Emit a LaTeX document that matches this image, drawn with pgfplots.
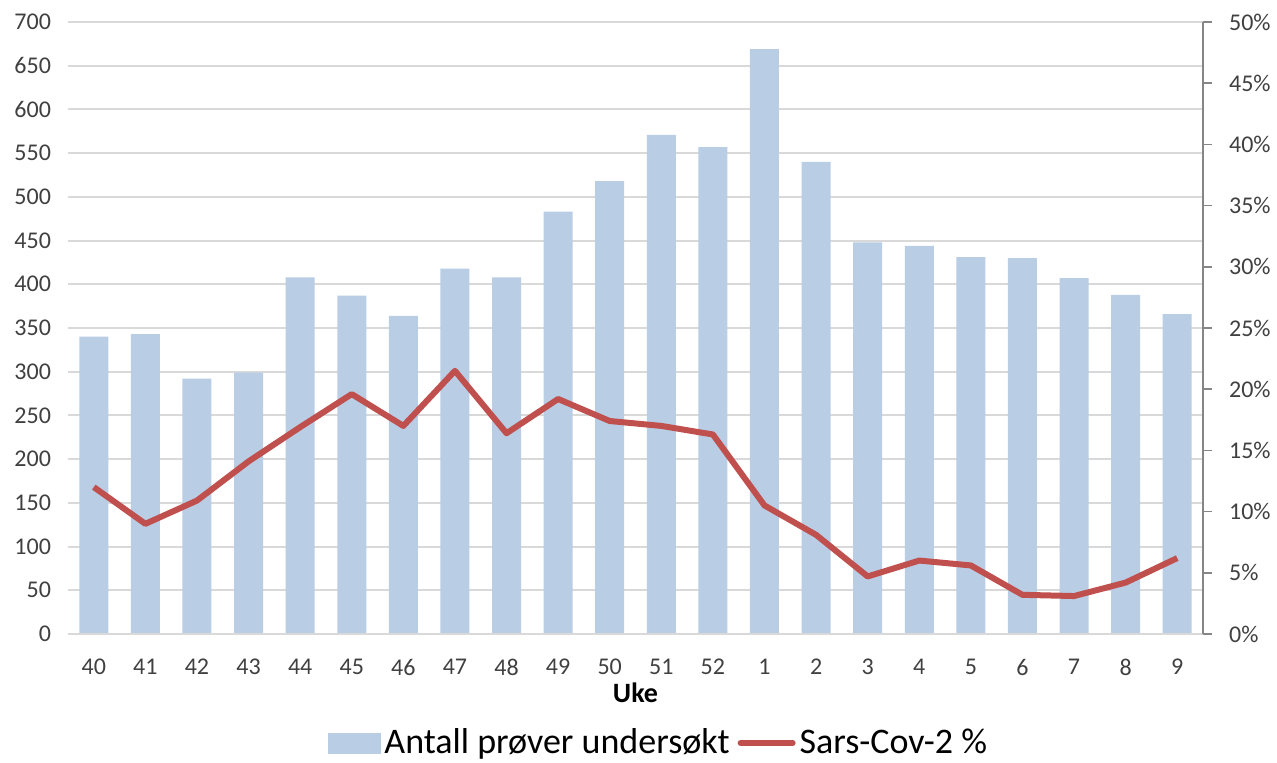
\documentclass[border=0pt]{standalone}
\usepackage{pgfplots}
\pgfplotsset{compat=1.18}
\usepackage{fontspec}
\setmainfont{Carlito}
\definecolor{barc}{HTML}{B9CDE5}
\definecolor{linec}{HTML}{C0504D}
\definecolor{gridc}{HTML}{D9D9D9}
\definecolor{txt}{HTML}{404040}
\definecolor{axc}{HTML}{868686}
\begin{document}
\begin{tikzpicture}
\path[use as bounding box] (-34pt,-64.5pt) rectangle (604.5pt,317pt);
\begin{axis}[
  scale only axis, width=567.5pt, height=306pt,
  xmin=-0.5, xmax=21.5, ymin=0, ymax=700,
  ytick={0,50,...,700},
  xtick={0,...,21},
  xticklabels={40,41,42,43,44,45,46,47,48,49,50,51,52,1,2,3,4,5,6,7,8,9},
  axis line style={draw=none},
  major tick length=0pt,
  ymajorgrids, grid style={gridc, line width=1pt},
  tick label style={font=\fontsize{12}{14}\selectfont, text=txt},
  /pgf/number format/assume math mode=true,
  yticklabel style={xshift=-5pt},
  xticklabel style={yshift=-9pt},
  xlabel={\textbf{Uke}}, xlabel style={font=\fontsize{14}{16}\selectfont, text=black, yshift=3.5pt},
  ybar, bar width=14.5pt,
  clip=false,
]
\addplot[fill=barc, draw=none] coordinates {
(0,340) (1,343) (2,292) (3,299) (4,408) (5,387) (6,364) (7,418) (8,408) (9,483) (10,518)
(11,571) (12,557) (13,669) (14,540) (15,448) (16,444) (17,431) (18,430) (19,407) (20,388) (21,366)};
\draw[gridc, line width=1pt] (axis cs:-0.5,0) -- (axis cs:21.5,0);
\end{axis}
\begin{axis}[
  scale only axis, width=567.5pt, height=306pt,
  xmin=-0.5, xmax=21.5, ymin=0, ymax=50,
  axis x line=none,
  axis y line*=right,
  ytick={0,5,...,50},
  yticklabel={\pgfmathprintnumber{\tick}\%},
  y axis line style={axc, line width=0.8pt, -},
  ytick style={axc, line width=0.8pt},
  tick align=outside, major tick length=4.5pt,
  tick label style={font=\fontsize{12}{14}\selectfont, text=txt},
  /pgf/number format/assume math mode=true,
  yticklabel style={xshift=5pt},
  legend style={at={(0.521,-0.178)}, anchor=center, draw=none, fill=none,
    font=\fontsize{18}{20}\selectfont, legend columns=2,
    /tikz/every even column/.append style={column sep=2pt}},
  legend image code/.code={},
]
\addlegendimage{legend image code/.code={\fill[barc] (-4pt,-5pt) rectangle (22pt,5pt);}}
\addlegendentry{Antall prøver undersøkt}
\addplot[linec, line width=3pt, line join=round, legend image code/.code={\draw[linec, line width=3pt, line cap=round] (-2pt,0pt) -- (24pt,0pt);}] coordinates {
(0,12.0) (1,9.0) (2,10.9) (3,14.1) (4,16.9) (5,19.6) (6,17.0) (7,21.5) (8,16.4) (9,19.2) (10,17.4)
(11,17.0) (12,16.3) (13,10.5) (14,8.1) (15,4.7) (16,6.0) (17,5.6) (18,3.2) (19,3.1) (20,4.2) (21,6.2)};
\addlegendentry{Sars-Cov-2 \%}
\end{axis}
\end{tikzpicture}
\end{document}
